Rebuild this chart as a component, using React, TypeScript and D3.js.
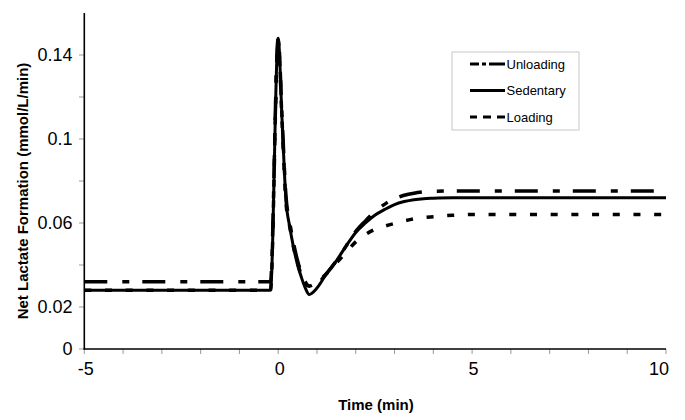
import React from "react";
import * as d3 from "d3";

const times = [-5, -4, -3, -2, -1, -0.2, 0, 0.1, 0.2, 0.3, 0.4, 0.5, 0.6, 0.7, 0.8, 1.0, 1.25, 1.5, 1.75, 2.0, 2.25, 2.5, 2.75, 3.0, 3.25, 3.5, 3.75, 4.0, 4.5, 5, 6, 7, 8, 9, 10];

const unloading = [0.032, 0.032, 0.032, 0.032, 0.032, 0.032, 0.148, 0.110, 0.073, 0.060, 0.050, 0.042, 0.036, 0.032, 0.030, 0.031, 0.036, 0.042, 0.049, 0.056, 0.061, 0.0655, 0.069, 0.0715, 0.0732, 0.0742, 0.0748, 0.0751, 0.0752, 0.0752, 0.0752, 0.0752, 0.0752, 0.0752, 0.0752];

const sedentary = [0.028, 0.028, 0.028, 0.028, 0.028, 0.028, 0.148, 0.109, 0.071, 0.058, 0.048, 0.040, 0.034, 0.029, 0.026, 0.029, 0.036, 0.042, 0.049, 0.0555, 0.060, 0.0638, 0.0665, 0.0688, 0.0702, 0.0711, 0.0716, 0.0718, 0.072, 0.072, 0.072, 0.072, 0.072, 0.072, 0.072];

const loading = [0.028, 0.028, 0.028, 0.028, 0.028, 0.028, 0.147, 0.108, 0.070, 0.058, 0.048, 0.041, 0.035, 0.031, 0.030, 0.032, 0.036, 0.041, 0.046, 0.051, 0.0545, 0.057, 0.0585, 0.0598, 0.061, 0.062, 0.0626, 0.063, 0.0637, 0.0641, 0.0641, 0.0641, 0.0641, 0.0641, 0.0641];

const xTicks = [-5, -4, -3, -2, -1, 0, 1, 2, 3, 4, 5, 6, 7, 8, 9, 10];
const xTickLabels = [-5, 0, 5, 10];
const yTicks = [0, 0.02, 0.04, 0.06, 0.08, 0.1, 0.12, 0.14];
const yTickLabels = ["0", "0.02", "0.06", "0.1", "0.14"];

const seriesNames = ["Unloading", "Sedentary", "Loading"];

const FONT = "'Liberation Sans', Arial, sans-serif";

export default function App() {
  const x = d3.scaleLinear().domain([-5, 10]).range([84.3, 666]);
  const y = d3.scaleLinear().domain([0, 0.16]).range([349, 13]);

  const mk = (vals: number[]) =>
    d3
      .line<number>()
      .x((_, i) => x(times[i]))
      .y((d) => y(d))
      .curve(d3.curveMonotoneX)(vals) as string;

  const series = [
    { name: seriesNames[0], vals: unloading, dash: "23,15,7,13", w: 3.5, legendDash: "9,3,4,3,17" },
    { name: seriesNames[1], vals: sedentary, dash: "none", w: 3, legendDash: "none" },
    { name: seriesNames[2], vals: loading, dash: "7,13.7", w: 3.5, legendDash: "7,6,8,6,8" },
  ];

  const legX = 452, legY = 52, legW = 127, legH = 78;

  return (
    <svg width={685} height={420} style={{ position: "absolute", left: 0, top: 0, background: "#fff" }} fontFamily={FONT}>
      <rect x={0} y={0} width={685} height={420} fill="#fff" />
      {yTicks.map((t) => (
        <line key={"yt" + t} x1={79} x2={84.3} y1={y(t)} y2={y(t)} stroke="#999" strokeWidth={1} />
      ))}
      {yTickLabels.map((s) => (
        <text key={"yl" + s} x={72.5} y={y(+s)} dy="0.36em" textAnchor="end" fontSize={18} fill="#000">
          {s}
        </text>
      ))}
      {xTicks.map((t) => (
        <line key={"xt" + t} x1={x(t)} x2={x(t)} y1={349} y2={354} stroke="#999" strokeWidth={1} />
      ))}
      {xTickLabels.map((t, i) => (
        <text key={"xl" + t} x={x(t)} dx={i === xTickLabels.length - 1 ? -7 : 1.5} y={375} textAnchor="middle" fontSize={18} fill="#000">
          {t}
        </text>
      ))}
      <line x1={84.3} x2={84.3} y1={y(0.16)} y2={349.5} stroke="#000" strokeWidth={1.6} />
      <line x1={83.5} x2={666} y1={349} y2={349} stroke="#000" strokeWidth={1.6} />
      <text x={376} y={410} textAnchor="middle" fontSize={15} fontWeight="bold" fill="#000">
        Time (min)
      </text>
      <text transform={`translate(28,191) rotate(-90)`} textAnchor="middle" fontSize={15} fontWeight="bold" fill="#000">
        Net Lactate Formation (mmol/L/min)
      </text>
      {series.map((s) => (
        <path key={s.name} d={mk(s.vals)} fill="none" stroke="#000" strokeWidth={s.w} strokeDasharray={s.dash} strokeLinejoin="round" />
      ))}
      <rect x={legX} y={legY} width={legW} height={legH} fill="#fff" stroke="#c8c8c8" strokeWidth={1} />
      {series.map((s, i) => {
        const ly = 64 + i * 26.5;
        return (
          <g key={"lg" + s.name}>
            <line x1={470} x2={505} y1={ly} y2={ly} stroke="#000" strokeWidth={3.2} strokeDasharray={s.legendDash} />
            <text x={506.5} y={ly} dy="0.36em" fontSize={13} fill="#000">
              {s.name}
            </text>
          </g>
        );
      })}
    </svg>
  );
}
